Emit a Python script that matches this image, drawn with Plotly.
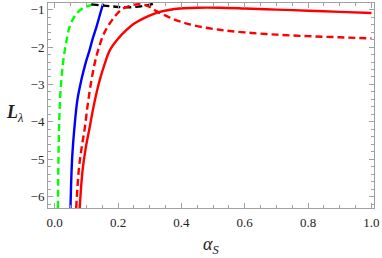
import plotly.graph_objects as go

# Data
green_x = [0.010, 0.012, 0.014, 0.017, 0.021, 0.026, 0.032, 0.039, 0.047, 0.060, 0.074, 0.090, 0.105, 0.121]
green_y = [-6.3, -5.0, -4.1, -3.4, -2.89, -2.45, -2.09, -1.75, -1.46, -1.22, -1.06, -0.96, -0.91, -0.86]

blue_x = [0.050, 0.055, 0.063, 0.072, 0.084, 0.097, 0.110, 0.121, 0.132, 0.143, 0.153]
blue_y = [-6.3, -5.0, -4.1, -3.4, -2.89, -2.45, -2.09, -1.75, -1.46, -1.13, -0.84]

black_x = [0.116, 0.145, 0.174, 0.200, 0.226, 0.252, 0.279, 0.300, 0.321]
black_y = [-0.86, -0.885, -0.91, -0.93, -0.94, -0.93, -0.905, -0.87, -0.82]

reddash_x = [0.068, 0.076, 0.085, 0.095, 0.105, 0.116, 0.126, 0.137, 0.155, 0.174, 0.195, 0.216,
             0.237, 0.258, 0.280, 0.300, 0.321, 0.360, 0.400, 0.450, 0.520, 0.600, 0.700, 0.800, 0.900, 1.000]
reddash_y = [-6.3, -5.3, -4.7, -4.17, -3.5, -2.89, -2.45, -2.09, -1.65, -1.37, -1.13, -0.97,
             -0.90, -0.86, -0.87, -0.93, -1.04, -1.2, -1.33, -1.44, -1.54, -1.61, -1.67, -1.71, -1.74, -1.77]

redsolid_x = [0.079, 0.088, 0.098, 0.110, 0.125, 0.142, 0.158, 0.174, 0.200, 0.226, 0.250, 0.279,
              0.305, 0.332, 0.360, 0.395, 0.450, 0.520, 0.600, 0.700, 0.800, 0.900, 1.000]
redsolid_y = [-6.3, -5.3, -4.7, -4.17, -3.5, -2.89, -2.45, -2.09, -1.78, -1.55, -1.38, -1.24,
              -1.14, -1.06, -1.01, -0.97, -0.95, -0.95, -0.97, -1.00, -1.03, -1.06, -1.09]

x_ticks = [0.0, 0.2, 0.4, 0.6, 0.8, 1.0]
x_ticklabels = ["0.0", "0.2", "0.4", "0.6", "0.8", "1.0"]
y_ticks = [-6, -5, -4, -3, -2, -1]
y_ticklabels = ["\u22126", "\u22125", "\u22124", "\u22123", "\u22122", "\u22121"]

SERIF = "Liberation Serif"
DASH = "7px,4px"

fig = go.Figure()
fig.add_trace(go.Scatter(x=green_x, y=green_y, mode="lines", line=dict(color="#00ff00", width=2.4, dash=DASH, shape="spline")))
fig.add_trace(go.Scatter(x=blue_x, y=blue_y, mode="lines", line=dict(color="#0000ff", width=2.4, shape="spline")))
fig.add_trace(go.Scatter(x=black_x, y=black_y, mode="lines", line=dict(color="#000000", width=2.4, dash=DASH, shape="spline")))
fig.add_trace(go.Scatter(x=reddash_x, y=reddash_y, mode="lines", line=dict(color="#ff0000", width=2.4, dash=DASH, shape="spline")))
fig.add_trace(go.Scatter(x=redsolid_x, y=redsolid_y, mode="lines", line=dict(color="#ff0000", width=2.4, shape="spline")))

axis_common = dict(
    showgrid=False, zeroline=False, showline=True, linecolor="#a0a0a0", linewidth=1,
    mirror="ticks", ticks="inside", ticklen=5, tickcolor="#a0a0a0", tickwidth=1,
    tickfont=dict(family=SERIF, size=13, color="#222222"),
    ticklabeloverflow="allow",
)

fig.update_xaxes(range=[-0.021, 1.008], tickvals=x_ticks, ticktext=x_ticklabels,
                 minor=dict(dtick=0.05, tick0=0, ticks="inside", ticklen=3, tickcolor="#a0a0a0"),
                 ticklabelstandoff=2,
                 **axis_common)
fig.update_yaxes(range=[-6.30, -0.824], tickvals=y_ticks, ticktext=y_ticklabels,
                 minor=dict(dtick=0.2, tick0=0, ticks="inside", ticklen=3, tickcolor="#a0a0a0"),
                 **axis_common)

fig.update_layout(
    width=382, height=258,
    margin=dict(l=48, r=8, t=3, b=50),
    plot_bgcolor="white", paper_bgcolor="white",
    showlegend=False,
    hovermode=False,
    font=dict(family=SERIF),
    annotations=[
        dict(text="<b><i>L</i></b><sub><i>\u03bb</i></sub>", xref="paper", yref="paper",
             x=-0.1, y=0.46, xanchor="center", yanchor="middle", showarrow=False,
             font=dict(family=SERIF, size=18, color="#222222")),
        dict(text="<i>\u03b1</i><sub><i>S</i></sub>", xref="paper", yref="paper",
             x=0.5, y=-0.185, xanchor="center", yanchor="middle", showarrow=False,
             font=dict(family=SERIF, size=18, color="#222222")),
    ],
)

fig.write_html("out.html", config={"displayModeBar": False, "staticPlot": True},
               post_script="document.body.style.margin='0';document.body.style.padding='0';")
